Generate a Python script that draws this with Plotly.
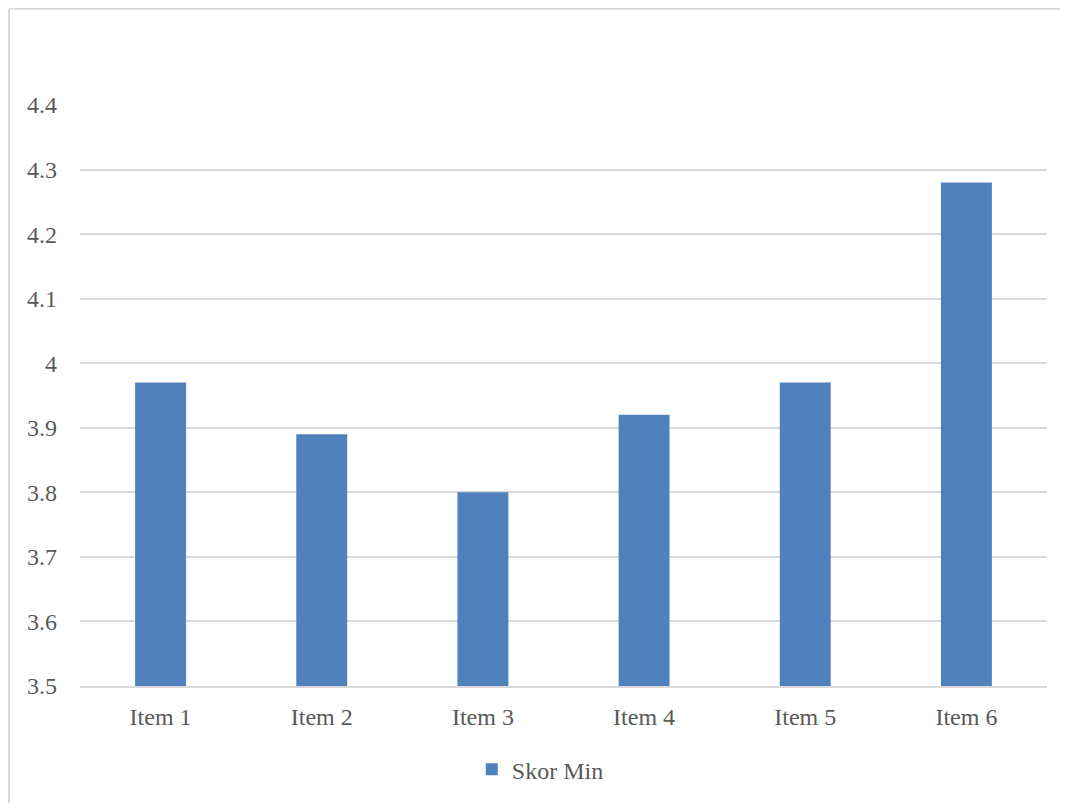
import plotly.graph_objects as go

categories = ["Item 1", "Item 2", "Item 3", "Item 4", "Item 5", "Item 6"]
skor_min = [3.97, 3.89, 3.80, 3.92, 3.97, 4.28]
y_ticks = [3.5, 3.6, 3.7, 3.8, 3.9, 4.0, 4.1, 4.2, 4.3, 4.4]
y_tick_labels = ["3.5", "3.6", "3.7", "3.8", "3.9", "4", "4.1", "4.2", "4.3", "4.4"]

FONT = "Liberation Serif"
TXT = "#595959"
GRID = "#D9D9D9"

W, H = 1060, 795
L, T = 72, 97
PW, PH = 967, 582
R = W - L - PW
B = H - T - PH

fig = go.Figure()
fig.add_trace(go.Bar(x=categories, y=skor_min, name="Skor Min",
                     marker=dict(color="#4F81BD", line=dict(width=0))))

bx0 = (1 - L) / PW
by1 = 1 + (T - 0.5) / PH
fig.update_layout(
    width=W, height=H,
    paper_bgcolor="white", plot_bgcolor="white",
    margin=dict(l=L, r=R, t=T, b=B),
    bargap=0.684,
    font=dict(family=FONT, size=24, color=TXT),
    showlegend=True,
    legend=dict(orientation="h", x=0.476, xanchor="center", y=-0.142, yanchor="middle",
                font=dict(family=FONT, size=24, color=TXT), itemwidth=30),
    xaxis=dict(showgrid=False, showline=True, linecolor=GRID, linewidth=2,
               ticks="", ticklabelstandoff=8, tickfont=dict(size=24, color=TXT)),
    yaxis=dict(range=[3.5, 4.4], tickvals=y_ticks, ticktext=y_tick_labels,
               showgrid=True, gridcolor=GRID, gridwidth=2, zeroline=False,
               showline=False, ticks="", ticklabelstandoff=22,
               tickfont=dict(size=24, color=TXT)),
    shapes=[
        dict(type="line", xref="paper", yref="paper", x0=bx0, x1=1.2, y0=by1, y1=by1,
             line=dict(color=GRID, width=2), layer="below"),
        dict(type="line", xref="paper", yref="paper", x0=bx0, x1=bx0, y0=-0.4, y1=by1,
             line=dict(color=GRID, width=2), layer="below"),
    ],
)

fig.write_html("out.html")
